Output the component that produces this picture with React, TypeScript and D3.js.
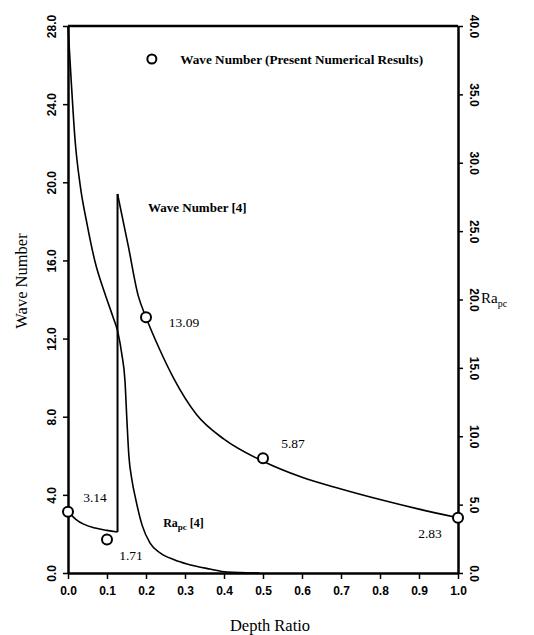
import { useRef, useEffect } from 'react';
import * as d3 from 'd3';

// Wave Number [4] before the jump at depth ratio ~0.127
const waveLow = [
  { d: 0, v: 3.14 }, { d: 0.02, v: 2.75 }, { d: 0.04, v: 2.5 }, { d: 0.07, v: 2.3 },
  { d: 0.1, v: 2.18 }, { d: 0.127, v: 2.1 },
];
// Wave Number [4] after the jump
const waveHigh = [
  { d: 0.127, v: 19.4 }, { d: 0.154, v: 16.8 }, { d: 0.18, v: 14.2 }, { d: 0.2, v: 13.09 },
  { d: 0.236, v: 11.4 }, { d: 0.27, v: 10.0 }, { d: 0.33, v: 8.1 }, { d: 0.4, v: 6.85 },
  { d: 0.5, v: 5.72 }, { d: 0.6, v: 4.9 }, { d: 0.7, v: 4.3 }, { d: 0.8, v: 3.76 },
  { d: 0.9, v: 3.27 }, { d: 1.0, v: 2.83 },
];
// Ra_pc [4] (right axis)
const raCurve = [
  { d: 0, v: 40 }, { d: 0.008, v: 36.1 }, { d: 0.018, v: 31.7 }, { d: 0.031, v: 28.4 },
  { d: 0.049, v: 25.5 }, { d: 0.069, v: 22.8 }, { d: 0.095, v: 20.4 }, { d: 0.115, v: 18.75 },
  { d: 0.128, v: 17.6 }, { d: 0.138, v: 16.0 }, { d: 0.146, v: 14.1 }, { d: 0.151, v: 11.2 },
  { d: 0.156, v: 8.6 }, { d: 0.164, v: 6.8 }, { d: 0.174, v: 5.35 }, { d: 0.19, v: 3.5 },
  { d: 0.21, v: 2.2 }, { d: 0.236, v: 1.47 }, { d: 0.274, v: 0.95 }, { d: 0.305, v: 0.66 },
  { d: 0.364, v: 0.29 }, { d: 0.408, v: 0.07 }, { d: 0.49, v: 0 },
];
// Present numerical results (circles)
const present = [
  { d: 0, v: 3.14, label: '3.14' }, { d: 0.1, v: 1.71, label: '1.71' },
  { d: 0.2, v: 13.09, label: '13.09' }, { d: 0.5, v: 5.87, label: '5.87' },
  { d: 1.0, v: 2.83, label: '2.83' },
];
const labelOffsets = [[27, -14], [24, 16], [38, 5], [30, -15], [-28, 16]];

const xTicks = [0, 0.1, 0.2, 0.3, 0.4, 0.5, 0.6, 0.7, 0.8, 0.9, 1.0];
const waveTicks = [0, 4, 8, 12, 16, 20, 24, 28];
const raTicks = [0, 5, 10, 15, 20, 25, 30, 35, 40];

const SERIF = "'Liberation Serif', 'Times New Roman', serif";
const SANS = "'Liberation Sans', Arial, sans-serif";

export default function App() {
  const ref = useRef<SVGSVGElement>(null);

  useEffect(() => {
    const svg = d3.select(ref.current);
    svg.selectAll('*').remove();

    const m = { top: 26, right: 76, bottom: 62, left: 68 };
    const W = 534, H = 635;
    const iw = W - m.left - m.right;
    const ih = H - m.top - m.bottom;

    const x = d3.scaleLinear().domain([0, 1]).range([0, iw]);
    const yW = d3.scaleLinear().domain([0, 28]).range([ih, 0]);
    const yR = d3.scaleLinear().domain([0, 40]).range([ih, 0]);

    const g = svg.append('g').attr('transform', `translate(${m.left},${m.top})`);

    // top frame line
    g.append('line').attr('x1', 0).attr('x2', iw).attr('y1', 0).attr('y2', 0)
      .attr('stroke', '#000').attr('stroke-width', 2.5);

    const styleAxis = (s: any) => {
      s.select('.domain').attr('stroke', '#000').attr('stroke-width', 2.5);
      s.selectAll('.tick line').attr('stroke', '#000').attr('stroke-width', 1.5);
      s.selectAll('text').attr('fill', '#000').style('font-family', SANS)
        .style('font-weight', 'bold').style('font-size', '12px');
    };

    g.append('g').attr('transform', `translate(0,${ih})`)
      .call(d3.axisBottom(x).tickValues(xTicks).tickFormat(d3.format('.1f')).tickSize(6).tickSizeOuter(0))
      .call(styleAxis)
      .call(s => s.selectAll('text').attr('y', 13));

    g.append('g')
      .call(d3.axisLeft(yW).tickValues(waveTicks).tickFormat(d3.format('.1f')).tickSize(5).tickSizeOuter(0))
      .call(styleAxis)
      .call(s => s.selectAll('text').attr('x', 0).attr('dy', null).attr('y', 0)
        .attr('text-anchor', 'middle').attr('transform', 'translate(-12,0) rotate(-90)'));

    g.append('g').attr('transform', `translate(${iw},0)`)
      .call(d3.axisRight(yR).tickValues(raTicks).tickFormat(d3.format('.1f')).tickSize(5).tickSizeOuter(0))
      .call(styleAxis)
      .call(s => s.selectAll('text').attr('x', 0).attr('dy', null).attr('y', 0)
        .attr('text-anchor', 'middle').attr('transform', 'translate(12,0) rotate(90)'));

    const lineW = d3.line<any>().x(d => x(d.d)).y(d => yW(d.v)).curve(d3.curveMonotoneX);
    const lineR = d3.line<any>().x(d => x(d.d)).y(d => yR(d.v)).curve(d3.curveMonotoneX);
    const curveStyle = (p: any) => p.attr('fill', 'none').attr('stroke', '#000').attr('stroke-width', 1.6);

    g.append('path').datum(raCurve).attr('d', lineR).call(curveStyle);
    g.append('path').datum(waveLow).attr('d', lineW).call(curveStyle);
    g.append('path').datum(waveHigh).attr('d', lineW).call(curveStyle);
    // jump connecting the two wave number branches
    const a = waveLow[waveLow.length - 1], b = waveHigh[0];
    g.append('line').attr('x1', x(a.d)).attr('y1', yW(a.v)).attr('x2', x(b.d)).attr('y2', yW(b.v))
      .attr('stroke', '#000').attr('stroke-width', 2);

    g.selectAll('circle.pt').data(present).join('circle').attr('class', 'pt')
      .attr('cx', d => x(d.d)).attr('cy', d => yW(d.v)).attr('r', 5)
      .attr('fill', '#fff').attr('stroke', '#000').attr('stroke-width', 2);

    g.selectAll('text.val').data(present).join('text').attr('class', 'val')
      .attr('x', (d, i) => x(d.d) + labelOffsets[i][0]).attr('y', (d, i) => yW(d.v) + labelOffsets[i][1])
      .attr('text-anchor', 'middle').attr('dy', '0.35em')
      .style('font-family', SERIF).style('font-size', '13.5px').text(d => d.label);

    // curve labels
    g.append('text').attr('x', x(0.205)).attr('y', yW(18.7)).attr('dy', '0.35em')
      .style('font-family', SERIF).style('font-size', '13px').style('font-weight', 'bold')
      .text('Wave Number [4]');
    const raLab = g.append('text').attr('x', x(0.244)).attr('y', yR(3.7)).attr('dy', '0.35em')
      .style('font-family', SERIF).style('font-size', '12px').style('font-weight', 'bold');
    raLab.append('tspan').text('Ra');
    raLab.append('tspan').attr('dy', 3).style('font-size', '9px').text('pc');
    raLab.append('tspan').attr('dy', -3).text(' [4]');

    // legend
    g.append('circle').attr('cx', x(0.215)).attr('cy', 33).attr('r', 4.5)
      .attr('fill', '#fff').attr('stroke', '#000').attr('stroke-width', 2);
    g.append('text').attr('x', x(0.288)).attr('y', 33).attr('dy', '0.35em')
      .style('font-family', SERIF).style('font-size', '13.2px').style('font-weight', 'bold')
      .text('Wave Number (Present Numerical Results)');

    // axis titles
    svg.append('text').attr('transform', 'translate(21,281) rotate(-90)')
      .attr('text-anchor', 'middle').attr('dy', '0.35em')
      .style('font-family', SERIF).style('font-size', '16.5px').text('Wave Number');
    const rt = svg.append('text').attr('x', 481).attr('y', 298).attr('dy', '0.35em')
      .style('font-family', SERIF).style('font-size', '15px');
    rt.append('tspan').text('Ra');
    rt.append('tspan').attr('dy', 4).style('font-size', '10px').text('pc');
    svg.append('text').attr('x', 270).attr('y', 625)
      .attr('text-anchor', 'middle').attr('dy', '0.35em')
      .style('font-family', SERIF).style('font-size', '16.5px').text('Depth Ratio');
  }, []);

  return (
    <svg ref={ref} width={534} height={635}
      style={{ position: 'absolute', left: 0, top: 0, background: '#fff', display: 'block' }} />
  );
}
